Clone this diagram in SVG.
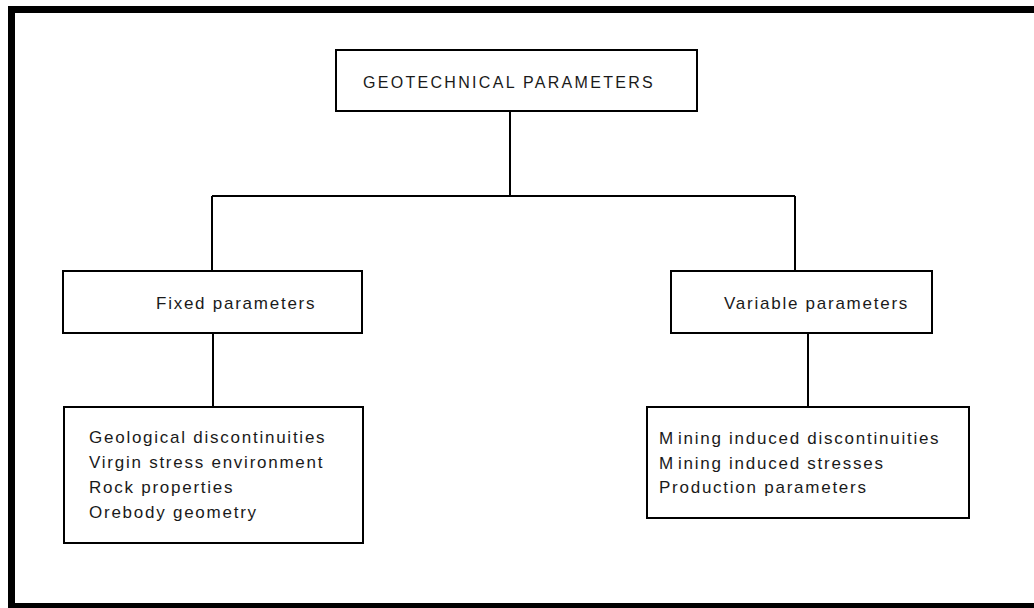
<svg xmlns="http://www.w3.org/2000/svg" width="1034" height="608" viewBox="0 0 1034 608">
  <style>
    .box { fill: #ffffff; stroke: #000000; stroke-width: 2; }
    .wire { fill: none; stroke: #000000; stroke-width: 2; }
    .label { font-family: "Liberation Sans", Arial, sans-serif; font-size: 17px; fill: #1a1a1a; letter-spacing: 1.75px; }
    .title { font-size: 16px; letter-spacing: 2.3px; }
  </style>

  <!-- page background and heavy frame (right edge runs off the sheet) -->
  <rect x="0" y="0" width="1034" height="608" fill="#ffffff"/>
  <rect x="11.5" y="9.5" width="1040" height="597" fill="none" stroke="#000000" stroke-width="7"/>

  <g id="connectors">
    <path class="wire" d="M510 111 V196"/>
    <path class="wire" d="M212 196 H795"/>
    <path class="wire" d="M212 196 V271"/>
    <path class="wire" d="M795 196 V271"/>
    <path class="wire" d="M213 333 V407"/>
    <path class="wire" d="M808 333 V407"/>
  </g>

  <g id="geotechnical">
    <rect class="box" x="336" y="50" width="361" height="61"/>
    <text class="label title" x="363" y="88">GEOTECHNICAL PARAMETERS</text>
  </g>

  <g id="fixed">
    <rect class="box" x="63" y="271" width="299" height="62"/>
    <text class="label" x="156" y="309">Fixed parameters</text>
  </g>

  <g id="variable">
    <rect class="box" x="671" y="271" width="261" height="62"/>
    <text class="label" x="724" y="309">Variable parameters</text>
  </g>

  <g id="fixed-list">
    <rect class="box" x="64" y="407" width="299" height="136"/>
    <text class="label" x="89" y="443">Geological discontinuities</text>
    <text class="label" x="89" y="468">Virgin stress environment</text>
    <text class="label" x="89" y="493">Rock properties</text>
    <text class="label" x="89" y="518">Orebody geometry</text>
  </g>

  <g id="variable-list">
    <rect class="box" x="647" y="407" width="322" height="111"/>
    <text class="label" x="659" y="444">M<tspan dx="3">ining induced discontinuities</tspan></text>
    <text class="label" x="659" y="469">M<tspan dx="3">ining induced stresses</tspan></text>
    <text class="label" x="659" y="493">Production parameters</text>
  </g>
</svg>
